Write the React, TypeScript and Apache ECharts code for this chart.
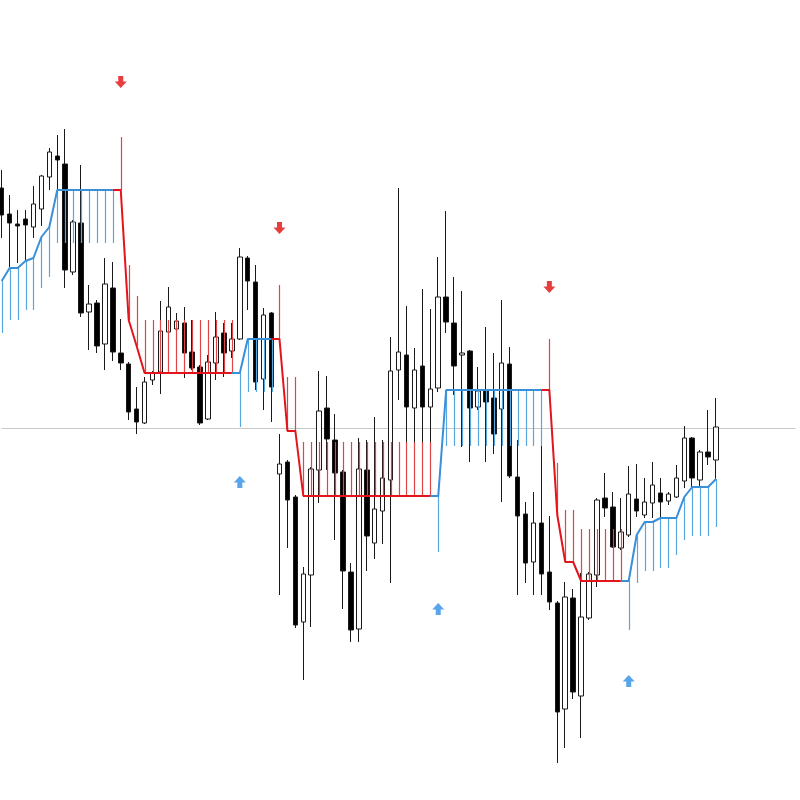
import React, { useEffect, useRef } from "react";
import * as echarts from "echarts";

// Price data per bar (91 bars)
const openPrices = [612,586,576,581,573,591,623,644,636,528,577,488,497,456,512,447,436,391,377,420,428,468,471,477,448,433,381,437,467,449,461,542,518,421,487,326,338,303,178,225,330,392,360,328,228,171,330,257,289,320,430,445,392,434,393,412,503,477,445,449,393,409,402,391,436,323,286,238,277,228,197,91,202,104,182,225,302,293,252,265,301,285,297,307,299,303,319,362,320,348,340];
const closePrices = [585,577,574,575,596,624,648,640,530,578,487,496,454,516,448,437,388,378,418,427,469,493,479,447,432,377,438,463,447,461,543,519,418,485,413,336,300,175,226,331,389,361,327,229,170,331,264,291,322,429,448,393,430,393,411,503,478,434,447,392,409,398,366,437,324,284,237,277,226,198,88,203,108,183,226,300,292,253,268,306,289,298,315,298,306,322,362,322,348,343,373];
const lowPrices = [562,533,537,540,562,574,610,608,512,525,483,450,447,430,439,430,380,366,376,415,406,465,460,422,430,375,380,420,423,442,460,490,410,390,378,205,252,172,120,173,297,330,260,191,158,158,229,241,256,217,400,322,328,338,340,408,467,405,353,338,390,338,346,298,322,205,217,205,205,190,37,52,101,62,180,213,283,252,250,263,283,282,282,282,295,302,312,313,313,335,320];
const highPrices = [630,605,590,590,614,625,652,665,671,580,635,515,500,542,538,481,438,413,423,429,499,513,487,493,480,435,445,488,477,477,552,544,535,492,488,366,340,305,233,333,429,424,386,330,237,362,360,383,360,463,612,494,452,511,491,543,589,523,509,450,433,473,447,500,453,360,298,308,354,284,199,218,211,227,228,302,327,308,302,334,336,322,338,322,308,335,374,363,350,390,402];

// Trailing stop level per bar
const stopLevels = [519,532,532,539,542,563,573,610,610,610,610,610,610,610,610,610,480,454,427,427,427,427,427,427,427,427,427,427,427,427,427,461,461,461,461,461,369,369,304,304,304,304,304,304,304,304,304,304,304,304,304,304,304,304,304,304,410,410,410,410,410,410,410,410,410,410,410,410,410,410,285,238,238,219,219,219,219,219,219,219,265,278,278,282,282,282,303,313,313,313,321];
// Far end of the histogram band per bar
const bandEnds = [467,480,480,490,490,512,523,557,557,557,557,557,557,557,557,663,535,504,480,480,480,480,480,480,480,480,480,480,480,480,373,408,408,408,408,515,423,423,358,358,358,358,358,358,358,358,358,358,358,358,358,358,358,358,358,248,354,354,354,354,354,354,354,354,354,354,354,354,354,461,337,290,290,271,271,271,271,271,271,170,217,229,229,232,232,245,260,264,264,264,273];
// Trend runs: [direction, number of bars]
const trendRuns = [[1, 15], [-1, 15], [1, 5], [-1, 20], [1, 14], [-1, 10], [1, 12]];

const upArrowBars = [30, 55, 79];
const upArrowValues = [318, 191, 119];
const downArrowBars = [15, 35, 69];
const downArrowValues = [718, 572, 513];

const referenceLevel = 372;
const totalSlots = 101;

export default function App() {
  const ref = useRef<HTMLDivElement>(null);
  useEffect(() => {
    const chart = echarts.init(ref.current!, null, { renderer: "svg" });
    const categories = Array.from({ length: totalSlots }, (_, i) => String(i));
    const trend: number[] = [];
    trendRuns.forEach(([d, n]) => {
      for (let k = 0; k < n; k++) trend.push(d);
    });
    const candleData = openPrices.map((o, i) => [o, closePrices[i], lowPrices[i], highPrices[i]]);
    const upLine = stopLevels.map((s, i) => (trend[i] === 1 || trend[i + 1] === 1 ? s : null));
    const downLine = stopLevels.map((s, i) => (trend[i] === -1 || trend[i + 1] === -1 ? s : null));
    const bands = stopLevels.map((s, i) => [i, s, bandEnds[i], trend[i]]);
    const upArrows = upArrowBars.map((b, k) => [b, upArrowValues[k]]);
    const downArrows = downArrowBars.map((b, k) => [b, downArrowValues[k]]);

    const option: any = {
      animation: false,
      backgroundColor: "#ffffff",
      grid: { left: 1.7, right: 4.6, top: 0, bottom: 0 },
      xAxis: {
        type: "category",
        data: categories,
        boundaryGap: false,
        show: false,
      },
      yAxis: {
        type: "value",
        min: 0,
        max: 800,
        show: false,
        splitLine: { show: false },
      },
      series: [
        {
          type: "candlestick",
          data: candleData,
          barWidth: 5,
          clip: false,
          z: 2,
          itemStyle: {
            color: "#ffffff",
            color0: "#000000",
            borderColor: "#1a1a1a",
            borderColor0: "#1a1a1a",
            borderWidth: 1,
          },
          markLine: {
            silent: true,
            symbol: "none",
            z: 1,
            label: { show: false },
            lineStyle: { color: "#c8c8c8", width: 1, type: "solid" },
            data: [{ yAxis: referenceLevel }],
          },
        },
        {
          type: "custom",
          data: bands,
          clip: false,
          z: 3,
          renderItem: (params: any, api: any) => {
            const i = api.value(0);
            const p1 = api.coord([i, api.value(1)]);
            const p2 = api.coord([i, api.value(2)]);
            const up = api.value(3) > 0;
            const x = Math.round(p1[0]) + 0.5;
            return {
              type: "line",
              shape: { x1: x, y1: p1[1], x2: x, y2: p2[1] },
              style: {
                stroke: up ? "#5aa6de" : "#e04444",
                lineWidth: 1.2,
                opacity: 1,
              },
            };
          },
        },
        {
          type: "line",
          data: upLine,
          symbol: "none",
          connectNulls: false,
          z: 4,
          lineStyle: { color: "#3a8fd9", width: 2 },
        },
        {
          type: "line",
          data: downLine,
          symbol: "none",
          connectNulls: false,
          z: 4,
          lineStyle: { color: "#e3141c", width: 2 },
        },
        {
          type: "scatter",
          data: upArrows,
          symbol: "path://M6,0 L12,6.5 L8.5,6.5 L8.5,12 L3.5,12 L3.5,6.5 L0,6.5 Z",
          symbolSize: [12, 12],
          z: 5,
          itemStyle: { color: "#2f8fe6" },
        },
        {
          type: "scatter",
          data: downArrows,
          symbol: "path://M3.5,0 L8.5,0 L8.5,5.5 L12,5.5 L6,12 L0,5.5 L3.5,5.5 Z",
          symbolSize: [12, 12],
          z: 5,
          itemStyle: { color: "#e00d0d" },
        },
      ],
    };
    chart.setOption(option);
    return () => chart.dispose();
  }, []);
  return (
    <div
      ref={ref}
      style={{ position: "fixed", left: 0, top: 0, width: 800, height: 800, background: "#ffffff" }}
    />
  );
}
